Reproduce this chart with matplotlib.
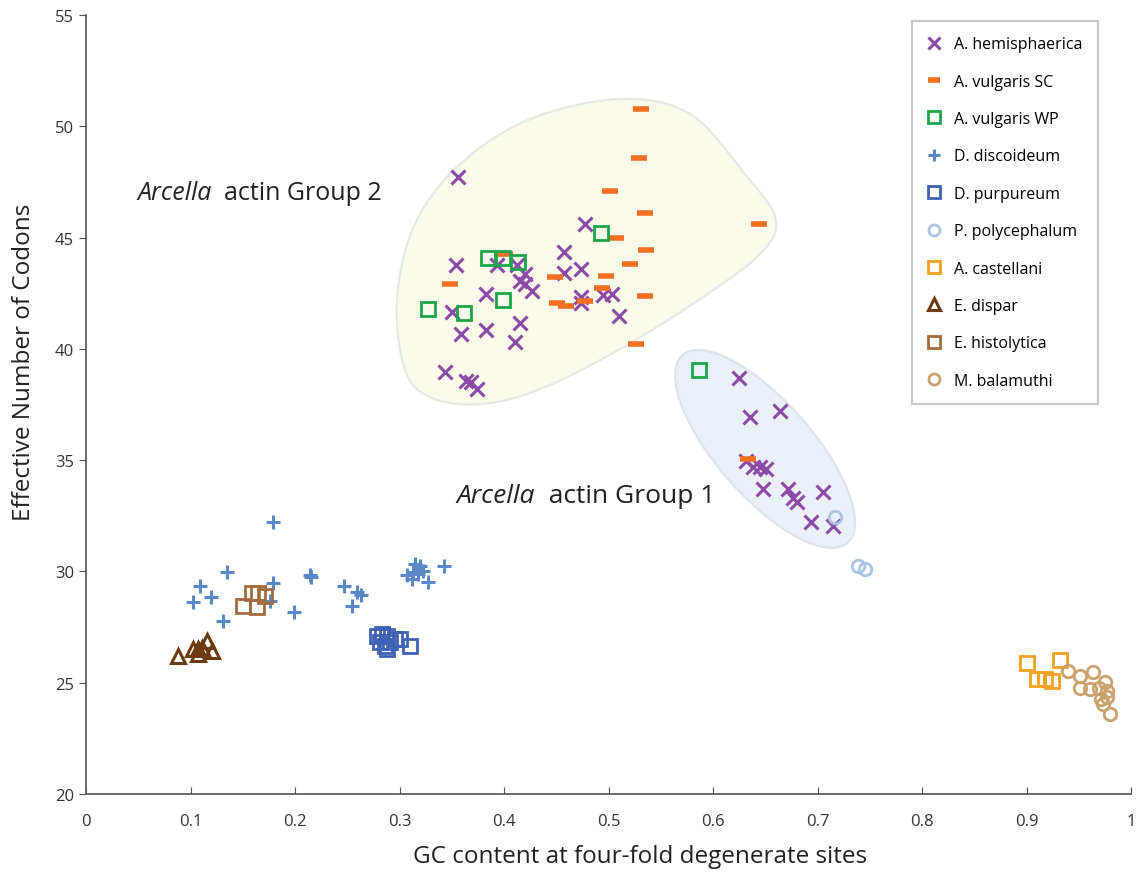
import numpy as np
import matplotlib
matplotlib.use("Agg")
import matplotlib.pyplot as plt
from matplotlib.patches import Polygon

plt.rcParams['font.family'] = ['Open Sans', 'DejaVu Sans']

# ---------------- data ----------------
hemi_x = [0.356, 0.4775, 0.457, 0.354, 0.393, 0.412, 0.420, 0.457, 0.4737, 0.415, 0.420, 0.4265,
          0.3825, 0.4737, 0.495, 0.503, 0.4737, 0.350, 0.5097, 0.3825, 0.415, 0.3589, 0.4105,
          0.3435, 0.3636, 0.368, 0.3745,
          0.625, 0.664, 0.635, 0.632, 0.6386, 0.645, 0.651, 0.648, 0.672, 0.677, 0.680, 0.705,
          0.694, 0.715]
hemi_y = [47.70, 45.61, 44.36, 43.77, 43.77, 43.77, 43.36, 43.43, 43.60, 43.06, 42.91, 42.61,
          42.46, 42.31, 42.42, 42.46, 42.08, 41.64, 41.49, 40.85, 41.14, 40.66, 40.33,
          38.94, 38.57, 38.50, 38.19,
          38.67, 37.22, 36.92, 34.97, 34.68, 34.68, 34.60, 33.70, 33.70, 33.32, 33.10, 33.55,
          32.23, 32.05]

vsc_x = [0.5308, 0.5295, 0.5014, 0.535, 0.644, 0.507, 0.5355, 0.401, 0.5206, 0.3483, 0.4488,
         0.498, 0.4934, 0.535, 0.4504, 0.4593, 0.4775, 0.526, 0.6338]
vsc_y = [50.77, 48.57, 47.10, 46.09, 45.61, 44.98, 44.45, 44.28, 43.81, 42.91, 43.24,
         43.27, 42.72, 42.39, 42.06, 41.92, 42.16, 40.24, 35.05]

vwp_x = [0.4928, 0.385, 0.3987, 0.413, 0.3987, 0.3276, 0.3617, 0.587]
vwp_y = [45.19, 44.07, 44.07, 43.88, 42.21, 41.81, 41.61, 39.06]

ddis_x = [0.1786, 0.1345, 0.1091, 0.1027, 0.1196, 0.1308, 0.1786, 0.176, 0.2144, 0.2150, 0.199,
          0.2469, 0.259, 0.2629, 0.2549, 0.3069, 0.3148, 0.3196, 0.3132, 0.3228, 0.3116, 0.3276,
          0.3426, 0.318]
ddis_y = [32.23, 29.99, 29.36, 28.64, 28.86, 27.79, 29.50, 28.68, 29.84, 29.75, 28.19,
          29.36, 29.09, 28.94, 28.46, 29.84, 30.33, 30.26, 29.96, 30.03, 29.66, 29.54,
          30.26, 29.88]

dpur_x = [0.2781, 0.2829, 0.2877, 0.2861, 0.2877, 0.2957, 0.3005, 0.3100, 0.2909, 0.2813]
dpur_y = [27.11, 27.19, 27.11, 26.66, 26.51, 26.96, 26.96, 26.66, 26.81, 26.81]

ppol_x = [0.7167, 0.739, 0.7455]
ppol_y = [32.43, 30.26, 30.11]

acas_x = [0.9002, 0.9321, 0.9097, 0.9177, 0.9241]
acas_y = [25.87, 26.02, 25.17, 25.17, 25.09]

edis_x = [0.0877, 0.1027, 0.1074, 0.1154, 0.1202, 0.1074, 0.1107]
edis_y = [26.21, 26.51, 26.51, 26.89, 26.44, 26.29, 26.58]

ehis_x = [0.1585, 0.1713, 0.165, 0.1505, 0.1633]
ehis_y = [29.03, 28.91, 29.03, 28.46, 28.41]

mbal_x = [0.940, 0.951, 0.9635, 0.951, 0.961, 0.975, 0.9768, 0.9713, 0.973, 0.9768, 0.980, 0.9697]
mbal_y = [25.54, 25.31, 25.49, 24.78, 24.72, 25.02, 24.64, 24.26, 24.04, 24.34, 23.59, 24.78]

labels = ["A. hemisphaerica", "A. vulgaris SC", "A. vulgaris WP", "D. discoideum",
          "D. purpureum", "P. polycephalum", "A. castellani", "E. dispar",
          "E. histolytica", "M. balamuthi"]

x_ticks = [0, 0.1, 0.2, 0.3, 0.4, 0.5, 0.6, 0.7, 0.8, 0.9, 1]
x_tick_labels = ["0", "0.1", "0.2", "0.3", "0.4", "0.5", "0.6", "0.7", "0.8", "0.9", "1"]
y_ticks = [20, 25, 30, 35, 40, 45, 50, 55]

# group 2 outline (annotation shape, data coords)
g2_x = [0.2976, 0.3148, 0.358, 0.425, 0.511, 0.578, 0.6306, 0.660, 0.645, 0.5876, 0.511,
        0.4344, 0.377, 0.329, 0.305]
g2_y = [42.24, 45.61, 48.30, 50.32, 51.22, 50.55, 47.85, 45.83, 44.26, 42.24, 39.99,
        38.19, 37.52, 37.83, 39.09]

# ---------------- figure ----------------
fig = plt.figure(figsize=(11.44, 8.78), dpi=100)
ax = fig.add_axes([86/1144, 1-795/878, (1131-86)/1144, (795-16)/878])
ax.set_xlim(0, 1)
ax.set_ylim(20, 55)


def catmull_closed(xs, ys, n=30):
    p = np.column_stack([xs, ys])
    m = len(p)
    out = []
    for i in range(m):
        p0, p1, p2, p3 = p[(i-1) % m], p[i], p[(i+1) % m], p[(i+2) % m]
        t = np.linspace(0, 1, n, endpoint=False)[:, None]
        pt = 0.5 * ((2*p1) + (-p0 + p2)*t + (2*p0 - 5*p1 + 4*p2 - p3)*t**2 + (-p0 + 3*p1 - 3*p2 + p3)*t**3)
        out.append(pt)
    return np.vstack(out)

g2 = catmull_closed(g2_x, g2_y)
ax.add_patch(Polygon(g2, closed=True, facecolor='#fbfbea', edgecolor='#e3eae5', lw=1.6, zorder=1))

# group 1 ellipse (affine image of a circle in data coords)
th = np.linspace(0, 2*np.pi, 200)
c = np.array([0.6498, 35.50])
u = np.array([0.0789, -4.22])
v = np.array([0.0345, 1.40])
e = c[None, :] + np.cos(th)[:, None]*u[None, :] + np.sin(th)[:, None]*v[None, :]
ax.add_patch(Polygon(e, closed=True, facecolor='#eaf0f8', edgecolor='#dfe3ec', lw=1.6, zorder=1))

ms = 10
ax.plot(hemi_x, hemi_y, ls='none', marker='x', ms=ms, mew=2.2, color='#8e4aa8', label=labels[0], zorder=3)
ax.plot(vsc_x, vsc_y, ls='none', marker='_', ms=11, mew=4, color='#f36f21', label=labels[1], zorder=3)
ax.plot(vwp_x, vwp_y, ls='none', marker='s', ms=10, mew=2, mfc='none', mec='#1ba64b', label=labels[2], zorder=4)
ax.plot(ddis_x, ddis_y, ls='none', marker='+', ms=10, mew=2.2, color='#5b88c9', label=labels[3], zorder=3)
ax.plot(dpur_x, dpur_y, ls='none', marker='s', ms=10, mew=2, mfc='none', mec='#3f62b6', label=labels[4], zorder=3)
ax.plot(ppol_x, ppol_y, ls='none', marker='o', ms=9, mew=2, mfc='none', mec='#a8c5e6', label=labels[5], zorder=3)
ax.plot(acas_x, acas_y, ls='none', marker='s', ms=10, mew=2, mfc='none', mec='#f7a11c', label=labels[6], zorder=3)
ax.plot(edis_x, edis_y, ls='none', marker='^', ms=10, mew=2.2, mfc='none', mec='#6d3b10', label=labels[7], zorder=3)
ax.plot(ehis_x, ehis_y, ls='none', marker='s', ms=10, mew=2, mfc='none', mec='#a26c3e', label=labels[8], zorder=3)
ax.plot(mbal_x, mbal_y, ls='none', marker='o', ms=9, mew=2, mfc='none', mec='#cba26d', label=labels[9], zorder=3)

# group labels: italic genus followed by upright text
t2a = ax.text(0.0488, 47.04, "Arcella", fontsize=18, style='italic', va='center', ha='left', color='#222222')
t1a = ax.text(0.355, 33.39, "Arcella", fontsize=19, style='italic', va='center', ha='left', color='#222222')
fig.canvas.draw()
for ta, rest, fs in [(t2a, "  actin Group 2", 18), (t1a, "  actin Group 1", 19)]:
    bb = ta.get_window_extent()
    xd, _ = ax.transData.inverted().transform((bb.x1, (bb.y0+bb.y1)/2))
    ax.text(xd, ta.get_position()[1], rest, fontsize=fs, va='center', ha='left', color='#222222')

# axes styling
for s in ['top', 'right']:
    ax.spines[s].set_visible(False)
for s in ['left', 'bottom']:
    ax.spines[s].set_color('#555555')
    ax.spines[s].set_linewidth(1.2)
ax.set_xticks(x_ticks)
ax.set_xticklabels(x_tick_labels)
ax.set_yticks(y_ticks)
ax.tick_params(axis='x', direction='in', length=5, color='#555555', labelsize=12, pad=14, labelcolor='#333333')
ax.tick_params(axis='y', direction='out', length=5, color='#555555', labelsize=12, labelcolor='#333333')
xl = ax.set_xlabel("GC content at four-fold degenerate sites", fontsize=17.5, color='#222222')
yl = ax.set_ylabel("Effective Number of Codons", fontsize=17.5, color='#222222')
xl.set_verticalalignment('center')
yl.set_verticalalignment('center')
ax.xaxis.set_label_coords((640-86)/1045, -(857-795)/779)
ax.yaxis.set_label_coords(-(86-24)/1045, (795-362)/779)

leg = ax.legend(loc='upper right', bbox_to_anchor=(1098/1144, 1-22/878), bbox_transform=fig.transFigure,
                fontsize=11.5, frameon=True, fancybox=False, edgecolor='#bbbbbb', borderpad=0.95,
                labelspacing=1.34, handlelength=0.9, handletextpad=0.8, borderaxespad=0)
leg.get_frame().set_linewidth(1.5)
for h in leg.legend_handles:
    h.set_markersize(8)

fig.savefig("out.png", dpi=100)
